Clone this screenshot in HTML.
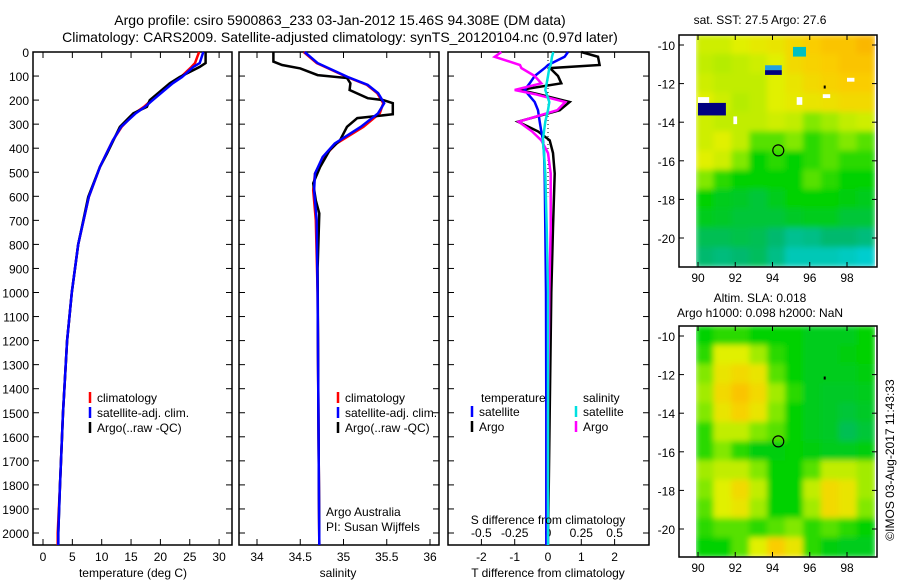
<!DOCTYPE html>
<html><head><meta charset="utf-8"><style>
html,body{margin:0;padding:0;background:#fff;}
svg{display:block;font-family:"Liberation Sans",sans-serif;}
</style></head><body>
<svg id="fig" width="900" height="580" viewBox="0 0 900 580" xmlns="http://www.w3.org/2000/svg">
<text x="340" y="25" font-size="14" text-anchor="middle">Argo profile: csiro 5900863_233 03-Jan-2012 15.46S 94.308E (DM data)</text>
<text x="340" y="42" font-size="14" text-anchor="middle">Climatology: CARS2009. Satellite-adjusted climatology: synTS_20120104.nc (0.97d later)</text>
<text x="760" y="24" font-size="12" text-anchor="middle">sat. SST: 27.5 Argo: 27.6</text>
<text x="760" y="302" font-size="12" text-anchor="middle">Altim. SLA: 0.018</text>
<text x="760" y="317" font-size="12" text-anchor="middle">Argo h1000: 0.098 h2000: NaN</text>
<text transform="translate(894,460) rotate(-90)" font-size="12" text-anchor="middle">©IMOS 03-Aug-2017 11:43:33</text>
<g id="plots"></g>
</svg>
<script>
// ---- data ----
const tDepth=[0,46,62,104,130,200,228,255,311,367,422,478,603,800,1000,1200,1500,1800,2000,2050];
const tArgo=[27.7,27.7,26.7,23.3,21.6,18.2,17.7,15.4,13.1,12.0,10.9,9.7,7.7,6.0,4.9,4.1,3.4,2.9,2.6,2.6];
const tClim=[26.6,25.9,25.3,23.5,22.0,18.5,17.2,15.6,13.4,11.9,10.8,9.7,7.8,6.0,4.9,4.1,3.4,2.9,2.5,2.5];
const tSat=[27.3,26.7,25.6,23.7,22.1,18.7,17.4,15.8,13.3,11.9,10.8,9.7,7.8,6.0,4.9,4.1,3.4,2.9,2.6,2.6];
const sArgoDepth=[0,40,54,68,96,108,130,158,192,200,213,259,275,311,367,408,478,546,617,671,900,1500,2050];
const sArgo=[34.19,34.19,34.29,34.5,34.7,35.04,35.08,35.07,35.28,35.46,35.57,35.57,35.16,35.04,34.96,34.84,34.73,34.65,34.68,34.72,34.70,34.71,34.72];
const sClimDepth=[0,46,104,137,171,213,255,311,380,436,505,575,700,1000,1500,2050];
const sClim=[34.54,34.69,35.04,35.27,35.39,35.46,35.42,35.23,34.92,34.77,34.67,34.65,34.68,34.70,34.71,34.72];
const sSat=[34.55,34.70,35.05,35.28,35.40,35.47,35.40,35.20,34.90,34.76,34.67,34.66,34.69,34.70,34.71,34.72];
const dDepth=[0,20,54,67,100,130,158,175,208,242,290,330,367,420,505,730,1000,1500,2050];
const dTArgo=[1.0,1.5,1.55,0.06,0.3,0.4,-0.85,-0.3,0.65,0.35,-0.9,-0.3,0.05,0.15,0.2,0.15,0.1,0.05,0.0];
const dTSat=[0.6,0.5,0.0,-0.1,-0.4,-0.55,-0.7,-0.6,-0.4,-0.3,-0.25,-0.2,-0.15,-0.12,-0.1,-0.08,-0.06,-0.05,-0.05];
const dSArgo=[-0.35,-0.4,-0.21,-0.2,-0.1,-0.05,-0.25,-0.1,0.13,0.07,-0.22,-0.12,-0.05,0.0,0.02,0.02,0.01,0.0,0.0];
const dSSat=[0.04,0.03,0.02,0.01,0.0,-0.01,-0.02,-0.01,0.01,0.0,-0.02,-0.03,-0.04,-0.03,-0.02,-0.01,0.0,0.0,0.0];
const depthTicks=[0,100,200,300,400,500,600,700,800,900,1000,1100,1200,1300,1400,1500,1600,1700,1800,1900,2000];
const tTicks=[0,5,10,15,20,25,30];
const sTicks=[34,34.5,35,35.5,36];
const sTickLabels=["34","34.5","35","35.5","36"];
const dTTicks=[-2,-1,0,1,2];
const dSTicks=[-0.5,-0.25,0,0.25,0.5];
const dSTickLabels=["-0.5","-0.25","0","0.25","0.5"];
const latTicks=[-10,-12,-14,-16,-18,-20];
const lonTicks=[90,92,94,96,98];
const sstGrid=[
[.72,.72,.75,.78,.8,.85,.9,.92,.92,.95],
[.7,.68,.7,.72,.75,.85,.88,.9,.92,.92],
[.72,.7,.7,.7,.75,.8,.85,.88,.9,.9],
[.75,.72,.68,.7,.75,.78,.8,.82,.85,.85],
[.72,.7,.7,.7,.72,.7,.6,.65,.7,.72],
[.72,.75,.7,.55,.55,.6,.5,.55,.6,.55],
[.75,.72,.6,.45,.5,.45,.5,.55,.5,.5],
[.6,.5,.45,.45,.45,.45,.55,.5,.45,.45],
[.45,.4,.38,.35,.4,.45,.45,.45,.42,.4],
[.4,.38,.35,.35,.35,.38,.4,.4,.35,.35],
[.3,.3,.32,.3,.25,.18,.2,.25,.25,.22],
[.25,.22,.25,.28,.2,.1,.1,.1,.08,.05]];
const slaGrid=[
[.45,.5,.5,.45,.45,.45,.4,.4,.4,.45],
[.5,.75,.75,.65,.5,.45,.4,.4,.42,.45],
[.6,.8,.85,.8,.55,.45,.4,.4,.4,.42],
[.65,.85,.92,.85,.65,.5,.4,.38,.38,.4],
[.6,.8,.88,.8,.6,.45,.4,.38,.35,.38],
[.5,.7,.7,.6,.55,.45,.4,.38,.3,.35],
[.5,.6,.5,.42,.42,.45,.42,.4,.4,.42],
[.65,.7,.7,.6,.45,.45,.55,.7,.7,.65],
[.6,.75,.85,.7,.45,.45,.7,.85,.8,.65],
[.55,.75,.8,.65,.45,.45,.65,.85,.8,.6],
[.5,.55,.55,.5,.55,.6,.5,.55,.5,.45],
[.45,.45,.55,.75,.9,.8,.5,.42,.4,.4]];
const argoPos=[94.31,-15.46];

// ---- helpers ----
const NS="http://www.w3.org/2000/svg";
const root=document.getElementById('plots');
function mk(tag,attrs,parent){const e=document.createElementNS(NS,tag);for(const k in attrs)e.setAttribute(k,attrs[k]);(parent||root).appendChild(e);return e;}
function txt(x,y,s,size,anchor,parent){const e=mk('text',{x:x,y:y,'font-size':size||12,'text-anchor':anchor||'middle'},parent);e.textContent=s;return e;}
const Y0=52,Y1=545;
const yD=d=>Y0+d*0.2405;
function poly(xs,ds,fx,color,w,name){
  const pts=xs.map((v,i)=>fx(v).toFixed(1)+','+yD(ds[i]).toFixed(1)).join(' ');
  const e=mk('polyline',{points:pts,fill:'none',stroke:color,'stroke-width':w||2.5,'stroke-linejoin':'miter'});
  
  
}
function frame(x0,x1,name){
  const e=mk('rect',{x:x0,y:Y0,width:x1-x0,height:Y1-Y0,fill:'none',stroke:'#000','stroke-width':1.5});
  
  
}
function xticks(vals,labels,fx,y,top){
  vals.forEach((v,i)=>{const x=fx(v);
    mk('line',{x1:x,x2:x,y1:Y1,y2:Y1-6,stroke:'#000'});
    if(top)mk('line',{x1:x,x2:x,y1:Y0,y2:Y0+6,stroke:'#000'});
    const t=txt(x,y,labels[i]);
    
    });
}
function legend(x,y,items){
  items.forEach((it,i)=>{const yy=y+i*15;
    mk('line',{x1:x,x2:x,y1:yy-10,y2:yy+1,stroke:it[1],'stroke-width':2.5});
    const t=txt(x+7,yy,it[0],12,'start');
    
    });
}

// ---- panel 1: temperature ----
const xT=v=>43+v*5.87;
frame(33,232,'temperature-axes');
depthTicks.forEach(d=>{const y=yD(d);
  mk('line',{x1:33,x2:39,y1:y,y2:y,stroke:'#000'});mk('line',{x1:232,x2:226,y1:y,y2:y,stroke:'#000'});
  const t=txt(29,y+5,String(d),12,'end');
  
  });
xticks(tTicks,tTicks.map(String),xT,561,true);
poly(tClim,tDepth,xT,'#ff0000',2.5,'temp-climatology-line');
poly(tArgo,tDepth,xT,'#000',2.5,'temp-argo-line');
poly(tSat,tDepth,xT,'#0000ff',2.5,'temp-satellite-line');
legend(90,402,[['climatology','#f00'],['satellite-adj. clim.','#00f'],['Argo(..raw -QC)','#000']]);
let t=txt(133,577,'temperature (deg C)');

// ---- panel 2: salinity ----
const xS=v=>257+(v-34)*86.5;
frame(239,439,'salinity-axes');
depthTicks.forEach(d=>{const y=yD(d);mk('line',{x1:439,x2:433,y1:y,y2:y,stroke:'#000'});mk('line',{x1:239,x2:245,y1:y,y2:y,stroke:'#000'});});
xticks(sTicks,sTickLabels,xS,561,true);
poly(sClim,sClimDepth,xS,'#ff0000',2.5,'sal-climatology-line');
poly(sArgo,sArgoDepth,xS,'#000',2.5,'sal-argo-line');
poly(sSat,sClimDepth,xS,'#0000ff',2.5,'sal-satellite-line');
legend(338,402,[['climatology','#f00'],['satellite-adj. clim.','#00f'],['Argo(..raw -QC)','#000']]);
t=txt(326,516,'Argo Australia',12,'start');
t=txt(326,531,'PI: Susan Wijffels',12,'start');
t=txt(338,577,'salinity');

// ---- panel 3: differences ----
const xDT=v=>548+v*33.3;
const xDS=v=>548+v*133.2;
frame(448,649,'difference-axes');
depthTicks.forEach(d=>{const y=yD(d);mk('line',{x1:448,x2:454,y1:y,y2:y,stroke:'#000'});mk('line',{x1:649,x2:643,y1:y,y2:y,stroke:'#000'});});
xticks(dTTicks,dTTicks.map(String),xDT,561,true);
dSTicks.forEach((v,i)=>{const tt=txt(xDS(v),537,dSTickLabels[i]);});
mk('line',{x1:xDT(0),x2:xDT(0),y1:Y0,y2:yD(600),stroke:'#000','stroke-dasharray':'1 3'});
poly(dTArgo,dDepth,xDT,'#000',2.5,'tdiff-argo-line');
poly(dTSat,dDepth,xDT,'#0000ff',2.5,'tdiff-satellite-line');
poly(dSArgo,dDepth,xDS,'#ff00ff',2.5,'sdiff-argo-line');
poly(dSSat,dDepth,xDS,'#00e0e0',2.5,'sdiff-satellite-line');
t=txt(481,402,'temperature',12,'start');
t=txt(583,402,'salinity',12,'start');
legend(472,416,[['satellite','#00f'],['Argo','#000']]);
legend(576,416,[['satellite','#00e0e0'],['Argo','#f0f']]);
t=txt(548,524,'S difference from climatology');
t=txt(548,577,'T difference from climatology');

// ---- maps ----
const stops=[[0,[0,210,230]],[0.25,[0,185,110]],[0.45,[0,210,0]],[0.6,[130,232,0]],[0.75,[225,240,0]],[0.9,[250,205,0]],[1,[250,160,0]]];
function cmap(v){for(let i=1;i<stops.length;i++){if(v<=stops[i][0]){const a=stops[i-1],b=stops[i],f=(v-a[0])/(b[0]-a[0]);
  return 'rgb('+a[1].map((c,k)=>Math.round(c+(b[1][k]-c)*f)).join(',')+')';}}return 'rgb(250,160,0)';}
function map(top,bot,grid,name,extra){
  const bx0=679,bx1=877,dx0=696,dx1=875;
  const lonX=l=>698+(l-90)*18.625;
  const latY=la=>top+10+(-10-la)*19.3;
  const g=mk('g',{});
  mk('clipPath',{id:'c'+name},g);
  mk('rect',{x:dx0,y:top,width:dx1-dx0,height:bot-top},g.lastChild);
  const inner=mk('g',{'clip-path':'url(#c'+name+')'},g);
  const nr=grid.length,nc=grid[0].length,cw=(dx1-dx0)/nc,ch=(bot-top)/nr;
  const bl=mk('g',{filter:'url(#blur)'},inner);
  grid.forEach((row,r)=>row.forEach((v,c)=>{
    const cell=mk('rect',{x:(dx0+c*cw-0.5).toFixed(1),y:(top+r*ch-0.5).toFixed(1),width:(cw+1).toFixed(1),height:(ch+1).toFixed(1),fill:cmap(v)},bl);
    
    
  }));
  if(extra)extra(inner,lonX,latY);
  mk('rect',{x:bx0,y:top,width:bx1-bx0,height:bot-top,fill:'none',stroke:'#000','stroke-width':1.5},g);
  latTicks.forEach(la=>{const y=latY(la);mk('line',{x1:bx0,x2:bx0+5,y1:y,y2:y,stroke:'#000'},g);mk('line',{x1:bx1,x2:bx1-5,y1:y,y2:y,stroke:'#000'},g);
    const tt=txt(bx0-4,y+5,String(la),12,'end',g);});
  lonTicks.forEach(l=>{const x=lonX(l);mk('line',{x1:x,x2:x,y1:bot,y2:bot-5,stroke:'#000'},g);mk('line',{x1:x,x2:x,y1:top,y2:top+5,stroke:'#000'},g);
    const tt=txt(x,bot+15,String(l),12,'middle',g);});
  const c=mk('circle',{cx:lonX(argoPos[0]),cy:latY(argoPos[1]),r:5.5,fill:'none',stroke:'#000','stroke-width':1.2},g);
  
  mk('rect',{x:lonX(96.75),y:latY(-12.1),width:2,height:3,fill:'#000'},g);
}
const defs=mk('defs',{});const f=mk('filter',{id:'blur',x:'-5%',y:'-5%',width:'110%',height:'110%'},defs);
mk('feGaussianBlur',{stdDeviation:3},f);
map(35,267,sstGrid,'sst-map',(g,lx,ly)=>{
  [[90,-13,1.5,0.65,'#000080'],[90,-12.7,0.6,0.3,'#fff'],[93.6,-11.3,0.9,0.25,'#000080'],[93.6,-11.05,0.9,0.25,'#20a0e0'],[95.1,-10.1,0.7,0.5,'#00c0c0'],[96.7,-12.55,0.4,0.2,'#fff'],[98,-11.7,0.4,0.2,'#fff'],[95.3,-12.7,0.3,0.4,'#fff'],[91.9,-13.7,0.2,0.4,'#fff']]
  .forEach(p=>{const r=mk('rect',{x:lx(p[0]),y:ly(p[1]),width:p[2]*18.6,height:p[3]*19.3,fill:p[4]},g);
    });
});
map(326,557,slaGrid,'sla-map');
</script>
</body></html>
